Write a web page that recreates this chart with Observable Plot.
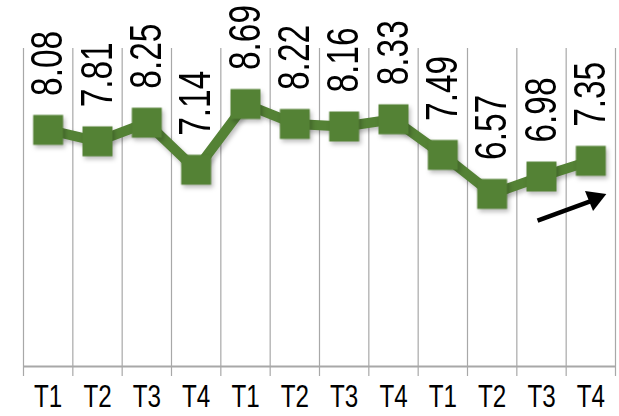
<!DOCTYPE html>
<html>
<head>
<meta charset="utf-8">
<script src="https://cdn.jsdelivr.net/npm/d3@7"></script>
<script src="https://cdn.jsdelivr.net/npm/@observablehq/plot@0.6"></script>
<style>
  html, body { margin: 0; padding: 0; background: #fff; }
  #chart svg {
    display: block;
    background-color: #fff;
    background-image: repeating-linear-gradient(to bottom, transparent 0px, transparent 3px, #eeeeee 3px, #eeeeee 4.3px, transparent 4.3px, transparent 17.33px);
  }
  .shadowed { filter: drop-shadow(2px 3px 2px rgba(0,0,0,0.25)); }
</style>
</head>
<body>
<div id="chart"></div>
<script>
const quarters = ["T1","T2","T3","T4","T1","T2","T3","T4","T1","T2","T3","T4"];
const values = [8.08, 7.81, 8.25, 7.14, 8.69, 8.22, 8.16, 8.33, 7.49, 6.57, 6.98, 7.35];
const labels = ["8.08","7.81","8.25","7.14","8.69","8.22","8.16","8.33","7.49","6.57","6.98","7.35"];
const yDomain = [2.5, 10];
const arrowFrom = {i: 9.92, v: 5.94};
const arrowShaftEnd = {i: 11.0, v: 6.40};
const arrowHead = {i: 11.08, v: 6.46};

const data = values.map((v, i) => ({i, q: quarters[i], v, label: labels[i]}));
const bounds = d3.range(quarters.length + 1).map(k => k - 0.5);

const green = "#548235";
const font = "'Liberation Sans', Arial, sans-serif";

const chart = Plot.plot({
  width: 619,
  height: 416,
  marginLeft: 23,
  marginRight: 4,
  marginTop: 48,
  marginBottom: 50,
  style: {fontFamily: font, background: "transparent", overflow: "visible"},
  x: {domain: [-0.5, quarters.length - 0.5], axis: null},
  y: {domain: yDomain, axis: null},
  marks: [
    Plot.ruleX(bounds, {stroke: "#a8a8a8", strokeWidth: 1.2, insetBottom: -10}),
    Plot.ruleY([yDomain[0]], {stroke: "#a8a8a8", strokeWidth: 2}),
    Plot.axisX(d3.range(quarters.length), {
      tickSize: 0, tickPadding: 18, fontSize: 31, fill: "#000",
      tickFormat: i => quarters[i], className: "xlabels"
    }),
    Plot.line(data, {x: "i", y: "v", stroke: green, strokeWidth: 10, className: "shadowed"}),
    Plot.dot(data, {x: "i", y: "v", symbol: "square", r: 16.9, fill: green, stroke: "none", className: "shadowed"}),
    Plot.text(data, {
      x: "i", y: "v", text: "label", rotate: -90, textAnchor: "start", lineAnchor: "middle",
      dy: -34, fontSize: 44, fill: "#000", className: "vlabels"
    }),
    Plot.link([{x1: arrowFrom.i, y1: arrowFrom.v, x2: arrowShaftEnd.i, y2: arrowShaftEnd.v}], {
      x1: "x1", y1: "y1", x2: "x2", y2: "y2", stroke: "#000", strokeWidth: 4.5
    }),
    Plot.dot([arrowHead], {x: "i", y: "v", symbol: "triangle", r: 8, fill: "#000", stroke: "none", rotate: 68})
  ]
});
document.getElementById("chart").appendChild(chart);

// Narrow (condensed) look of the reference typeface
d3.select(chart).selectAll(".vlabels text").each(function() {
  const t = this.getAttribute("transform") || "";
  this.setAttribute("transform", t + " scale(0.76,1)");
});
d3.select(chart).selectAll(".xlabels text").each(function() {
  const t = this.getAttribute("transform") || "";
  this.setAttribute("transform", t + " scale(0.78,1)");
});
</script>
</body>
</html>
